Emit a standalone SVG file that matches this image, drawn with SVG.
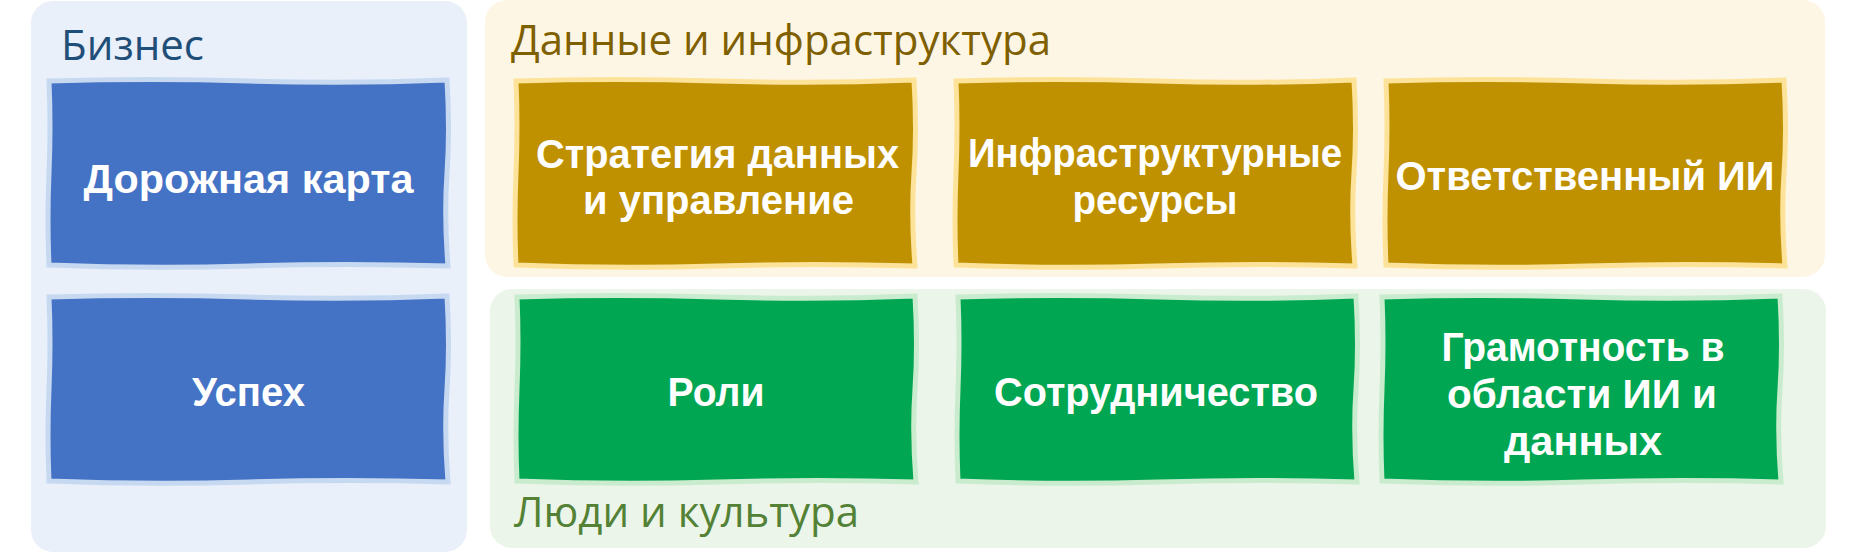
<svg xmlns="http://www.w3.org/2000/svg" width="1854" height="560" viewBox="0 0 1854 560">
  <style>
    .title { font-family: "Open Sans", "Noto Sans", "Liberation Sans", sans-serif; font-size: 42px; font-weight: 400; }
    .lbl { font-family: "Liberation Sans", "Open Sans", sans-serif; font-size: 41px; font-weight: 700; fill: #ffffff; text-anchor: middle; }
    .blue { fill: #4472c4; stroke: #c6d9f1; stroke-width: 5; }
    .gold { fill: #bf9000; stroke: #fde39a; stroke-width: 5; }
    .green { fill: #00a651; stroke: #c9ecce; stroke-width: 5; }
  </style>
  <defs>
    <path id="card" d="M 0,1 Q 100,-2 200,1 T 398,0 Q 401,50 398,93 T 399,186 Q 300,183 200,186 T 0,185 Q -2,140 0,93 T 0,1 Z"/>
  </defs>
  <rect width="1854" height="560" fill="#ffffff"/>

  <g id="panel-business">
    <rect x="31" y="1" width="436" height="551" rx="22" fill="#e9f0fa"/>
    <text class="title" x="61" y="60" fill="#1f4e79">Бизнес</text>
  </g>
  <g id="panel-data">
    <rect x="485" y="0" width="1340" height="277" rx="22" fill="#fef6e4"/>
    <text class="title" x="511" y="55" fill="#7f6000">Данные и инфраструктура</text>
  </g>
  <g id="panel-people">
    <rect x="490" y="289" width="1336" height="259" rx="22" fill="#ecf5e9"/>
    <text class="title" x="514" y="527" fill="#538135">Люди и культура</text>
  </g>

  <g id="node-roadmap">
    <use href="#card" class="blue" x="49" y="80"/>
    <text class="lbl" x="248.5" y="193" textLength="330" lengthAdjust="spacingAndGlyphs">Дорожная карта</text>
  </g>
  <g id="node-success">
    <use href="#card" class="blue" x="49" y="296"/>
    <text class="lbl" x="248.5" y="406" textLength="113" lengthAdjust="spacingAndGlyphs">Успех</text>
  </g>

  <g id="node-data-strategy">
    <use href="#card" class="gold" x="516" y="80"/>
    <text class="lbl" x="717.5" y="168" textLength="363" lengthAdjust="spacingAndGlyphs">Стратегия данных</text>
    <text class="lbl" x="718.5" y="214" textLength="271" lengthAdjust="spacingAndGlyphs">и управление</text>
  </g>
  <g id="node-infra">
    <use href="#card" class="gold" x="956" y="80"/>
    <text class="lbl" x="1155" y="167" textLength="374" lengthAdjust="spacingAndGlyphs">Инфраструктурные</text>
    <text class="lbl" x="1155" y="214" textLength="165" lengthAdjust="spacingAndGlyphs">ресурсы</text>
  </g>
  <g id="node-responsible-ai">
    <use href="#card" class="gold" x="1386" y="80"/>
    <text class="lbl" x="1585" y="190" textLength="379" lengthAdjust="spacingAndGlyphs">Ответственный ИИ</text>
  </g>

  <g id="node-roles">
    <use href="#card" class="green" x="517" y="296"/>
    <text class="lbl" x="716" y="406" textLength="97" lengthAdjust="spacingAndGlyphs">Роли</text>
  </g>
  <g id="node-collab">
    <use href="#card" class="green" x="958" y="296"/>
    <text class="lbl" x="1156" y="406" textLength="324" lengthAdjust="spacingAndGlyphs">Сотрудничество</text>
  </g>
  <g id="node-literacy">
    <use href="#card" class="green" x="1382" y="296"/>
    <text class="lbl" x="1583" y="361" textLength="283" lengthAdjust="spacingAndGlyphs">Грамотность в</text>
    <text class="lbl" x="1582" y="408" textLength="270" lengthAdjust="spacingAndGlyphs">области ИИ и</text>
    <text class="lbl" x="1583" y="455" textLength="158" lengthAdjust="spacingAndGlyphs">данных</text>
  </g>

  <g id="connectors"></g>
</svg>
